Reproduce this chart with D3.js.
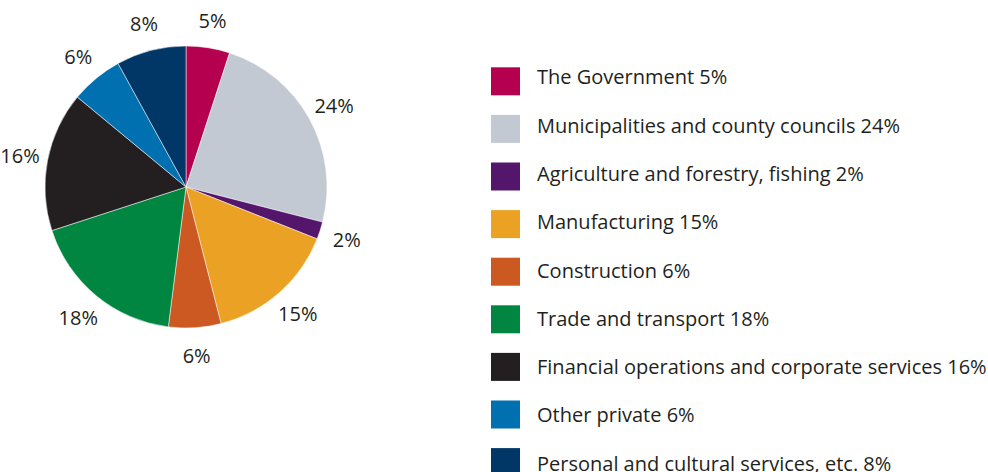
<!DOCTYPE html>
<html>
<head>
<meta charset="utf-8">
<script src="https://cdn.jsdelivr.net/npm/d3@7"></script>
<style>
  html, body { margin: 0; padding: 0; background: #fff; }
  svg text { font-family: "Open Sans", "Noto Sans", sans-serif; fill: #231f20; }
</style>
</head>
<body>
<svg id="chart" width="988" height="472"></svg>
<script>
// Sector names, their shares (%) and fill colours
const categories = [
  "The Government",
  "Municipalities and county councils",
  "Agriculture and forestry, fishing",
  "Manufacturing",
  "Construction",
  "Trade and transport",
  "Financial operations and corporate services",
  "Other private",
  "Personal and cultural services, etc."
];
const shares = [5, 24, 2, 15, 6, 18, 16, 6, 8];
const colors = ["#b5004f", "#c3c9d3", "#54166b", "#eaa124", "#cb5921", "#008641", "#231f20", "#0070b0", "#003767"];

const width = 988, height = 472;
const cx = 186, cy = 187, radius = 141, labelRadius = 169;

const svg = d3.select("#chart");
const data = categories.map((name, i) => ({ name, value: shares[i], color: colors[i] }));

const pie = d3.pie().value(d => d.value).sort(null);
const arcs = pie(data);
const arc = d3.arc().innerRadius(0).outerRadius(radius);
const labelArc = d3.arc().innerRadius(labelRadius).outerRadius(labelRadius);

const g = svg.append("g").attr("transform", `translate(${cx},${cy})`);

g.selectAll("path.slice")
  .data(arcs)
  .join("path")
  .attr("class", "slice")
  .attr("d", arc)
  .attr("fill", d => d.data.color)
  .attr("stroke", "#fff")
  .attr("stroke-width", 0.5);

g.selectAll("text.pct")
  .data(arcs)
  .join("text")
  .attr("class", "pct")
  .attr("transform", d => `translate(${labelArc.centroid(d)})`)
  .attr("text-anchor", "middle")
  .attr("dominant-baseline", "central")
  .attr("font-size", 20)
  .text(d => d.data.value + "%");

// Legend: swatches step 47.6px, text lines step 48.3px
const legendX = 491, boxTop = 67.3, boxStep = 47.6, textTop = 84.3, textStep = 48.3;
const legend = svg.append("g");

legend.selectAll("rect")
  .data(data)
  .join("rect")
  .attr("x", legendX)
  .attr("y", (d, i) => boxTop + i * boxStep)
  .attr("width", 29)
  .attr("height", 28)
  .attr("fill", d => d.color);

legend.selectAll("text")
  .data(data)
  .join("text")
  .attr("x", legendX + 46)
  .attr("y", (d, i) => textTop + i * textStep)
  .attr("font-size", 20)
  .text(d => `${d.name} ${d.value}%`);
</script>
</body>
</html>
